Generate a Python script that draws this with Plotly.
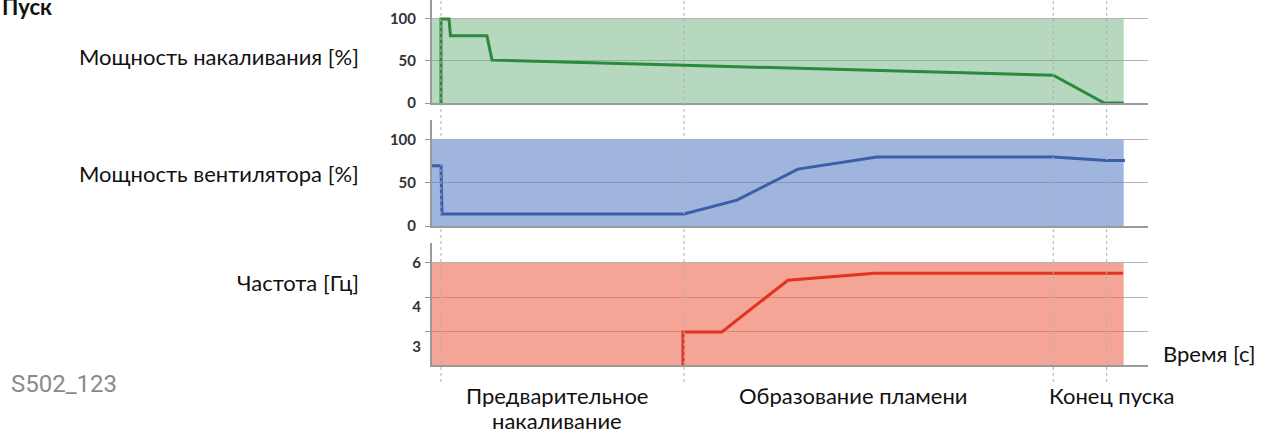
"""Пуск: three stacked step/line panels sharing a time axis."""

import plotly.graph_objects as go

# Time axis (arbitrary seconds); phase markers drawn as dotted verticals
T_RANGE = [-3.7, 291]
PHASE_TIMES = [0, 100, 252, 274]
BAND_T = [-3.7, 281]

# Glow plug power [%]
GLOW_T = [0, 0, 3.3, 3.9, 18.9, 21, 100, 252, 273, 281]
GLOW_V = [0, 100, 100, 80, 80, 51, 45, 33, 0, 0]

# Fan power [%]
FAN_T = [-3.7, 0, 0.4, 100, 121.8, 146.9, 179.4, 252, 274, 281.5]
FAN_V = [70, 70, 14, 14, 30, 66, 80, 80, 76, 76]

# Frequency [Hz]
FREQ_T = [99.6, 99.6, 115.6, 142.8, 178.6, 280.7]
FREQ_V = [3, 4, 4, 5.5, 5.7, 5.7]

ROW_LABELS = ["Мощность накаливания [%]", "Мощность вентилятора [%]", "Частота [Гц]"]
PHASE_LABELS = [["Предварительное", "накаливание"], ["Образование пламени"], ["Конец пуска"]]

FONT = "Lato, sans-serif"
AXIS_GREY = "#9a9a9a"
GRID_GREY = "#b4b4b4"

W, H = 1264, 435
L, R, T, B = 432, 116, 0, 70
PW, PH = W - L - R, H - T - B


def px_x(px):
    return (px - L) / PW


def px_y(py):
    return (H - B - py) / PH


fig = go.Figure()

panels = [
    dict(t=GLOW_T, v=GLOW_V, top=100, line="#2b8a3c", fill="rgba(110,178,128,0.5)"),
    dict(t=FAN_T, v=FAN_V, top=100, line="#3a5ea9", fill="rgba(97,132,198,0.6)"),
    dict(t=FREQ_T, v=FREQ_V, top=6, line="#e23220", fill="rgba(237,105,80,0.6)"),
]

for i, p in enumerate(panels, start=1):
    suffix = "" if i == 1 else str(i)
    fig.add_trace(go.Scatter(
        x=BAND_T, y=[p["top"]] * len(BAND_T), mode="lines",
        line=dict(width=0), fill="tozeroy", fillcolor=p["fill"],
        xaxis="x" + suffix, yaxis="y" + suffix, hoverinfo="skip", showlegend=False,
    ))
    fig.add_trace(go.Scatter(
        x=p["t"], y=p["v"], mode="lines",
        line=dict(color=p["line"], width=3),
        xaxis="x" + suffix, yaxis="y" + suffix, showlegend=False,
    ))

x_common = dict(range=T_RANGE, showgrid=False, zeroline=False, showticklabels=False,
                showline=True, linecolor=AXIS_GREY, linewidth=2, ticks="")
y_common = dict(showline=True, linecolor=AXIS_GREY, linewidth=2, zeroline=False,
                ticklen=5, tickcolor=AXIS_GREY,
                gridcolor=GRID_GREY, gridwidth=1, ticklabelstandoff=6,
                tickfont=dict(family=FONT, size=15, color="#333333", weight=700))

fig.update_layout(
    width=W, height=H,
    margin=dict(l=L, r=R, t=T, b=B),
    paper_bgcolor="white", plot_bgcolor="white",
    xaxis=dict(**x_common, domain=[0, 1], anchor="y"),
    xaxis2=dict(**x_common, domain=[0, 1], anchor="y2"),
    xaxis3=dict(**x_common, domain=[0, 1], anchor="y3"),
    yaxis=dict(**y_common, domain=[px_y(103), 1], range=[0, 122.6],
               tickvals=[0, 50, 100], ticks="outside"),
    yaxis2=dict(**y_common, domain=[px_y(226), px_y(120)], range=[0, 123],
                tickvals=[0, 50, 100], ticks="outside"),
    yaxis3=dict(**y_common, domain=[0, px_y(243)], range=[3.04, 6.58],
                tickvals=[6, 4.72, 3.57], ticktext=["6", "4", "3"], ticks="",
                showgrid=False,
                minor=dict(tickvals=[6, 5, 4], ticks="outside", ticklen=5,
                           tickcolor=AXIS_GREY, showgrid=True, gridcolor=GRID_GREY)),
)

for t in PHASE_TIMES:
    fig.add_shape(type="line", xref="x", yref="paper", x0=t, x1=t, y0=px_y(382), y1=1,
                  line=dict(color="#b0b0b0", width=1, dash="dot"), layer="above")

text_font = dict(family=FONT, size=22, color="#111111")
for label, ypx in zip(ROW_LABELS, [56, 173, 282]):
    fig.add_annotation(text=label, xref="paper", yref="paper", x=px_x(361), y=px_y(ypx),
                       xanchor="right", yanchor="middle", showarrow=False, font=text_font)

for lines, xpx in zip(PHASE_LABELS, [557, 853, 1112]):
    for line, ypx in zip(lines, [395, 420]):
        fig.add_annotation(text=line, xref="paper", yref="paper", x=px_x(xpx), y=px_y(ypx),
                           xanchor="center", yanchor="middle", showarrow=False,
                           font=text_font, height=24)

fig.add_annotation(text="Время [с]", xref="paper", yref="paper", x=px_x(1258), y=px_y(353),
                   xanchor="right", yanchor="middle", showarrow=False, font=text_font)
fig.add_annotation(text="S502_123", xref="paper", yref="paper", x=px_x(9), y=px_y(384),
                   xanchor="left", yanchor="middle", showarrow=False,
                   font=dict(family="Roboto, sans-serif", size=24, color="#8a8a8a"))
fig.add_annotation(text="<b>Пуск</b>", xref="paper", yref="paper", x=px_x(0), y=px_y(6),
                   xanchor="left", yanchor="middle", showarrow=False,
                   font=dict(family=FONT, size=22, color="#111111"))

fig.write_html("out.html", config={"displayModeBar": False},
               post_script="document.body.style.margin='0';")
